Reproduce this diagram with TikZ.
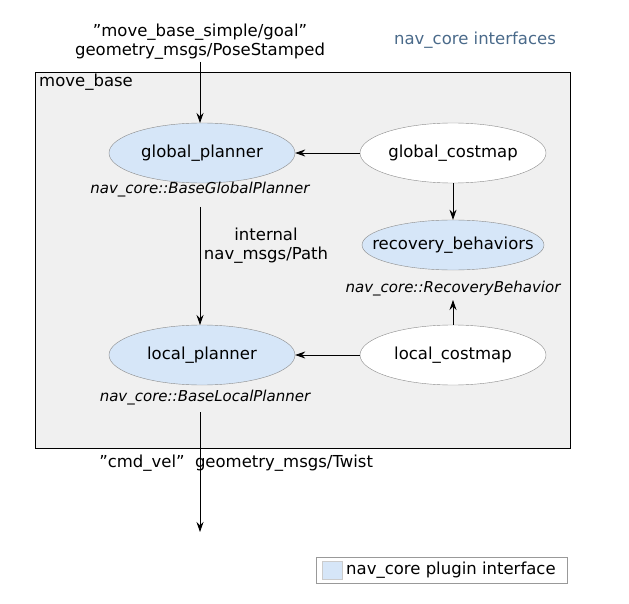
\documentclass[tikz,border=0pt]{standalone}
\usepackage{fontspec}
\setmainfont{DejaVu Sans}[Ligatures=ResetAll]
\usetikzlibrary{shapes.geometric,arrows.meta}
\definecolor{plug}{HTML}{D6E6F8}
\definecolor{title}{HTML}{4A6A8A}
\newcommand{\dq}{\symbol{34}}
\begin{document}
\begin{tikzpicture}[x=1pt,y=-1pt,font=\fontsize{16.5}{19}\selectfont,
  ell/.style={ellipse,draw=black!45,minimum width=186pt,minimum height=60pt,inner sep=0pt},
  arr/.style={-{Stealth[length=10pt,width=7pt]},line width=0.8pt},
  it/.style={font=\fontsize{15}{18}\selectfont\itshape}]
\useasboundingbox (0,0) rectangle (629,604);
\node[title] (t) at (475,40) {nav\_core interfaces};
\node[align=center,inner sep=0pt] (goal) at (200,42) {\dq move\_base\_simple/goal\dq\\geometry\_msgs/PoseStamped};
\draw[fill=black!6,line width=0.8pt] (35,72) rectangle (570,448);
\node[anchor=north west,inner sep=0pt] (mb) at (39,74) {move\_base};
\node[ell,fill=plug] (gp) at (202,153) {global\_planner};
\node[it] (gpl) at (200,190) {nav\_core::BaseGlobalPlanner};
\node[ell,fill=white] (gc) at (453,153) {global\_costmap};
\node[ell,fill=plug,minimum width=182pt,minimum height=50pt] (rb) at (453,245) {};
\node (rbt2) at (453,245) {recovery\_behaviors};
\node[it] (rbl) at (453,289) {nav\_core::RecoveryBehavior};
\node[ell,fill=white] (lc) at (453,355) {local\_costmap};
\node[ell,fill=plug] (lp) at (202,355) {local\_planner};
\node[it] (lpl) at (205,398) {nav\_core::BaseLocalPlanner};
\node[align=center] (path) at (266,246) {internal\\nav\_msgs/Path};
\coordinate (gtop) at (200,62);
\coordinate (gpn) at (200,123);
\coordinate (gbot) at (200,207);
\coordinate (lpn) at (200,325);
\coordinate (rbt) at (453,300);
\coordinate (bs) at (200,412);
\coordinate (be) at (200,532);
\draw[arr] (gtop) -- (gpn);
\draw[arr] (gc) -- (gp);
\draw[arr] (gc) -- (rb);
\draw[arr] (lc.north) -- (rbt);
\draw[arr] (lc) -- (lp);
\draw[arr] (gbot) -- (lpn);
\draw[arr] (bs) -- (be);
\node (cv) at (142,463) {\dq cmd\_vel\dq};
\node (tw) at (284,463) {geometry\_msgs/Twist};
\draw[draw=black!40] (316,557) rectangle (567,583);
\node[draw=black!20,fill=plug,minimum width=20pt,minimum height=18pt,inner sep=0pt] (sw) at (332,570) {};
\node[anchor=west,inner sep=2pt] (lg) at (344,570) {nav\_core plugin interface};
\end{tikzpicture}
\end{document}
